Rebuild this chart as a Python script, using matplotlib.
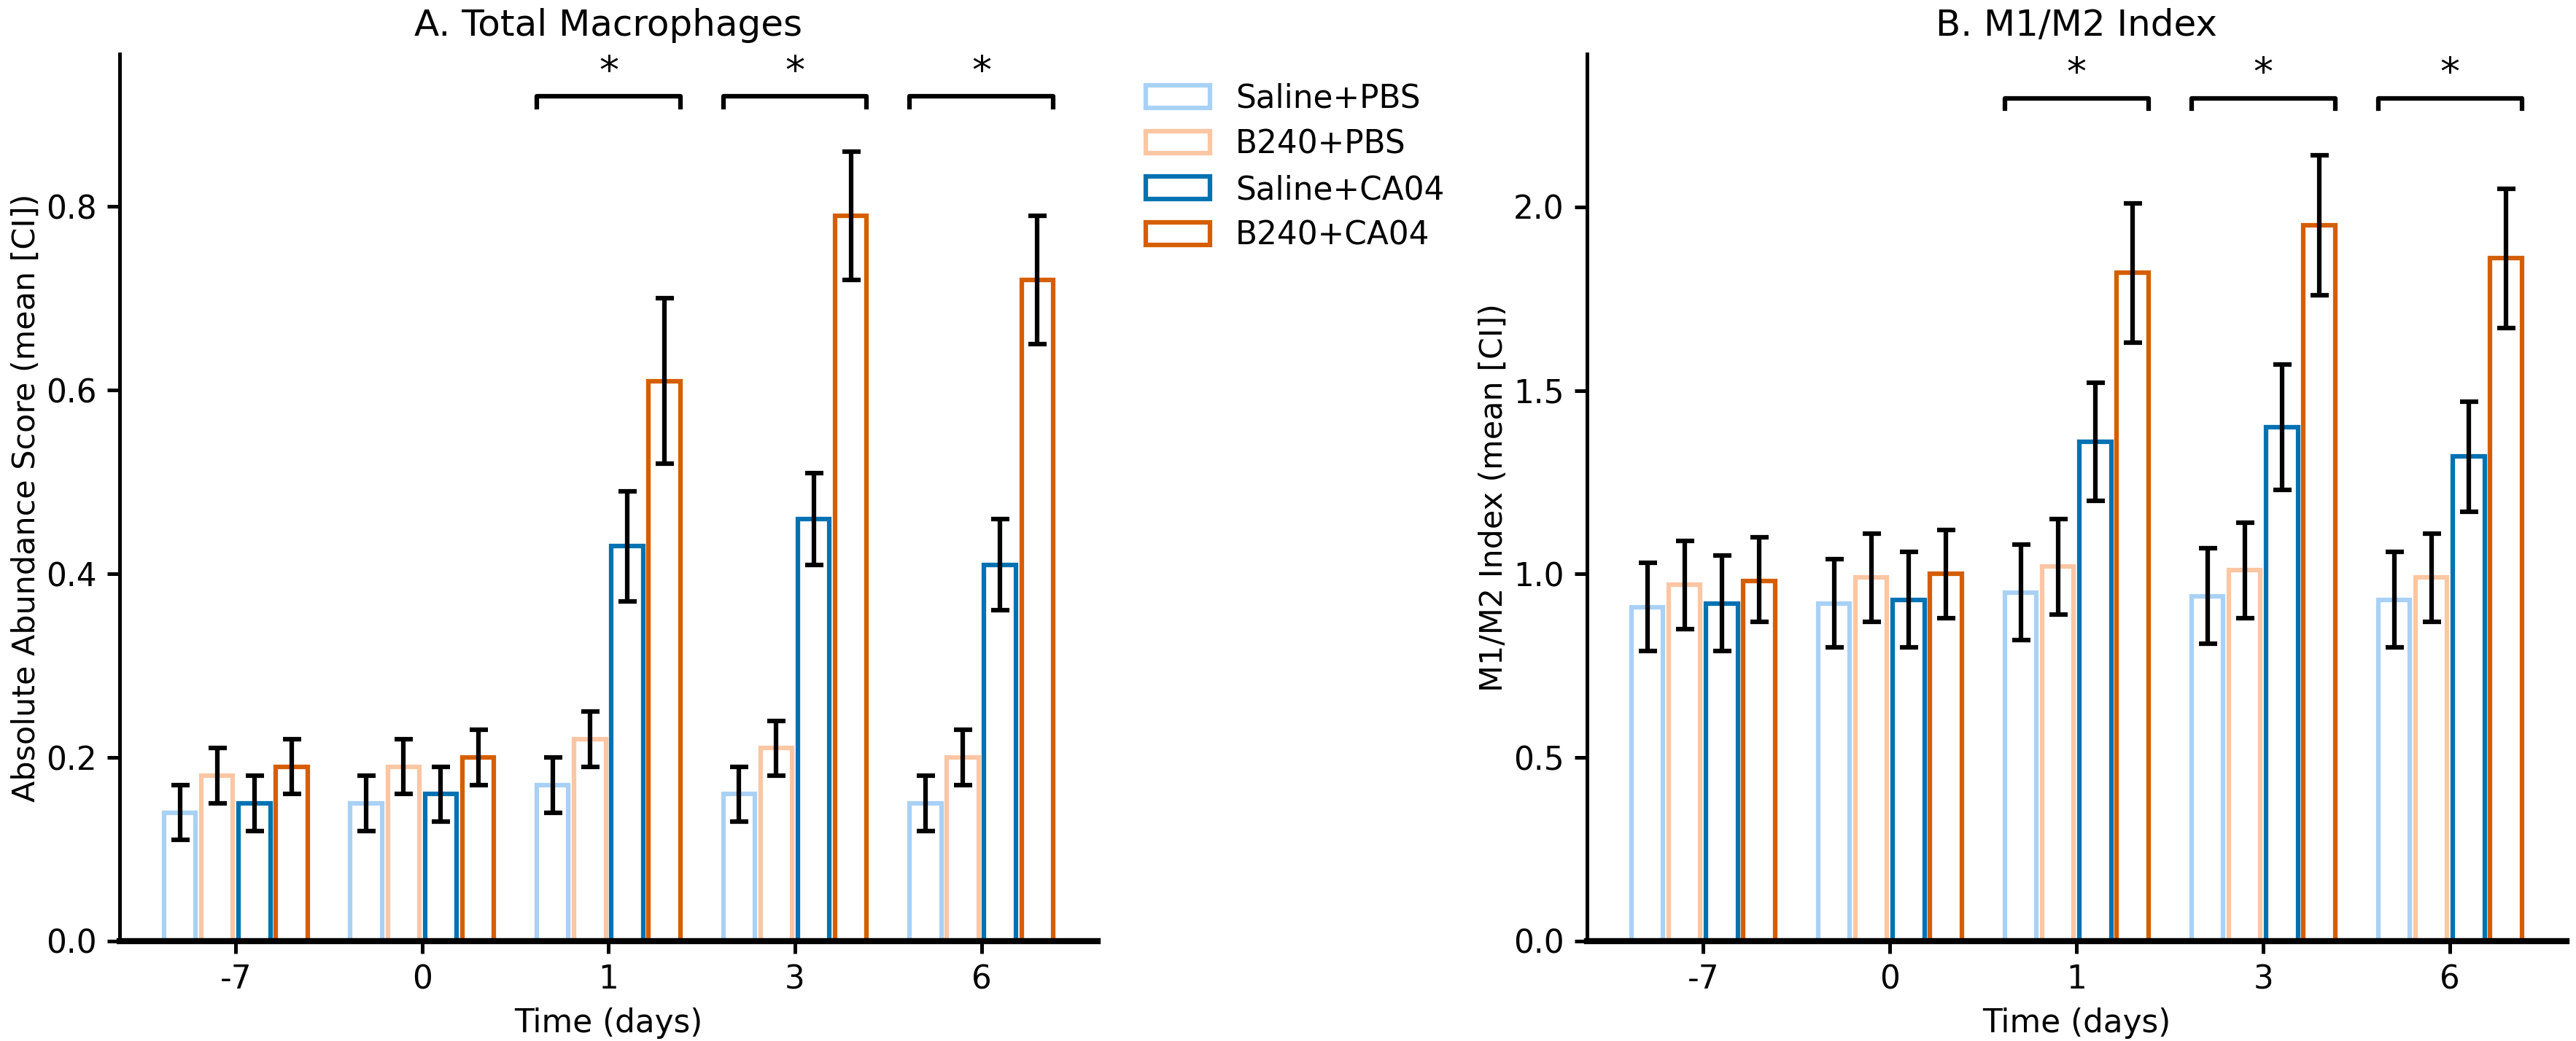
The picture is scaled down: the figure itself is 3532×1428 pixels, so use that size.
#!/usr/bin/env python3
"""Macrophage abundance and M1/M2 index by group and time point."""

import matplotlib
matplotlib.use("Agg")
import matplotlib.pyplot as plt
import numpy as np

plt.rcParams["font.family"] = ["DejaVu Sans"]

DAYS = ["-7", "0", "1", "3", "6"]
GROUPS = ["Saline+PBS", "B240+PBS", "Saline+CA04", "B240+CA04"]
COLORS = ["#a9d1f5", "#fbc6a3", "#0072B2", "#D55E00"]

# panel A: total macrophages (mean, lower CI, upper CI); rows = groups, cols = days
mac_mean = [
    [0.14, 0.15, 0.17, 0.16, 0.15],
    [0.18, 0.19, 0.22, 0.21, 0.20],
    [0.15, 0.16, 0.43, 0.46, 0.41],
    [0.19, 0.20, 0.61, 0.79, 0.72],
]
mac_lo = [
    [0.11, 0.12, 0.14, 0.13, 0.12],
    [0.15, 0.16, 0.19, 0.18, 0.17],
    [0.12, 0.13, 0.37, 0.41, 0.36],
    [0.16, 0.17, 0.52, 0.72, 0.65],
]
mac_hi = [
    [0.17, 0.18, 0.20, 0.19, 0.18],
    [0.21, 0.22, 0.25, 0.24, 0.23],
    [0.18, 0.19, 0.49, 0.51, 0.46],
    [0.22, 0.23, 0.70, 0.86, 0.79],
]

# panel B: M1/M2 index
m12_mean = [
    [0.91, 0.92, 0.95, 0.94, 0.93],
    [0.97, 0.99, 1.02, 1.01, 0.99],
    [0.92, 0.93, 1.36, 1.40, 1.32],
    [0.98, 1.00, 1.82, 1.95, 1.86],
]
m12_lo = [
    [0.79, 0.80, 0.82, 0.81, 0.80],
    [0.85, 0.87, 0.89, 0.88, 0.87],
    [0.79, 0.80, 1.20, 1.23, 1.17],
    [0.87, 0.88, 1.63, 1.76, 1.67],
]
m12_hi = [
    [1.03, 1.04, 1.08, 1.07, 1.06],
    [1.09, 1.11, 1.15, 1.14, 1.11],
    [1.05, 1.06, 1.52, 1.57, 1.47],
    [1.10, 1.12, 2.01, 2.14, 2.05],
]

SIG_DAYS = [2, 3, 4]  # indices of days marked with *

BAR_STEP = 0.2
BAR_W = 0.17


def draw_panel(ax, mean, lo, hi, title, ylabel, yticks, ytop, bracket_y):
    x = np.arange(len(DAYS))
    for g, name in enumerate(GROUPS):
        m = np.array(mean[g])
        err = np.vstack([m - np.array(lo[g]), np.array(hi[g]) - m])
        pos = x + (g - 1.5) * BAR_STEP
        ax.bar(pos, m, width=BAR_W, facecolor="white", edgecolor=COLORS[g],
               linewidth=1.5, label=name, zorder=2)
        ax.errorbar(pos, m, yerr=err, fmt="none", ecolor="black",
                    elinewidth=1.5, capsize=3, capthick=1.5, zorder=3)

    tick_h = 0.012 * ytop
    for d in SIG_DAYS:
        x0 = d - 1.5 * BAR_STEP - BAR_W / 2
        x1 = d + 1.5 * BAR_STEP + BAR_W / 2
        ax.plot([x0, x0, x1, x1], [bracket_y - tick_h, bracket_y, bracket_y, bracket_y - tick_h],
                color="black", linewidth=1.5, zorder=4)
        ax.text(d, bracket_y + 0.006 * ytop, "*", ha="center", va="bottom", fontsize=13)

    ax.set_xticks(x)
    ax.set_xticklabels(DAYS)
    ax.set_yticks(yticks)
    ax.set_ylim(0, ytop)
    ax.set_xlabel("Time (days)", fontsize=10.5)
    ax.set_ylabel(ylabel, fontsize=10.3, labelpad=1.5)
    ax.set_title(title, fontsize=12)
    ax.tick_params(labelsize=10.5, width=1.2, length=4)
    ax.spines["top"].set_visible(False)
    ax.spines["right"].set_visible(False)
    ax.spines["left"].set_linewidth(1.2)
    ax.spines["bottom"].set_linewidth(2.0)


fig = plt.figure(figsize=(3532 / 300, 1428 / 300), dpi=300)
ax_a = fig.add_axes([0.0464, 0.096, 0.3797, 0.852])
ax_b = fig.add_axes([0.616, 0.096, 0.3803, 0.852])

draw_panel(ax_a, mac_mean, mac_lo, mac_hi, "A. Total Macrophages",
           "Absolute Abundance Score (mean [CI])", [0.0, 0.2, 0.4, 0.6, 0.8], 0.966, 0.92)
draw_panel(ax_b, m12_mean, m12_lo, m12_hi, "B. M1/M2 Index",
           "M1/M2 Index (mean [CI])", [0.0, 0.5, 1.0, 1.5, 2.0], 2.416, 2.296)

ax_a.legend(loc="upper left", bbox_to_anchor=(1.02, 1.0), frameon=False, fontsize=10.5,
            labelspacing=0.45)

fig.savefig("out.png", dpi=300)
